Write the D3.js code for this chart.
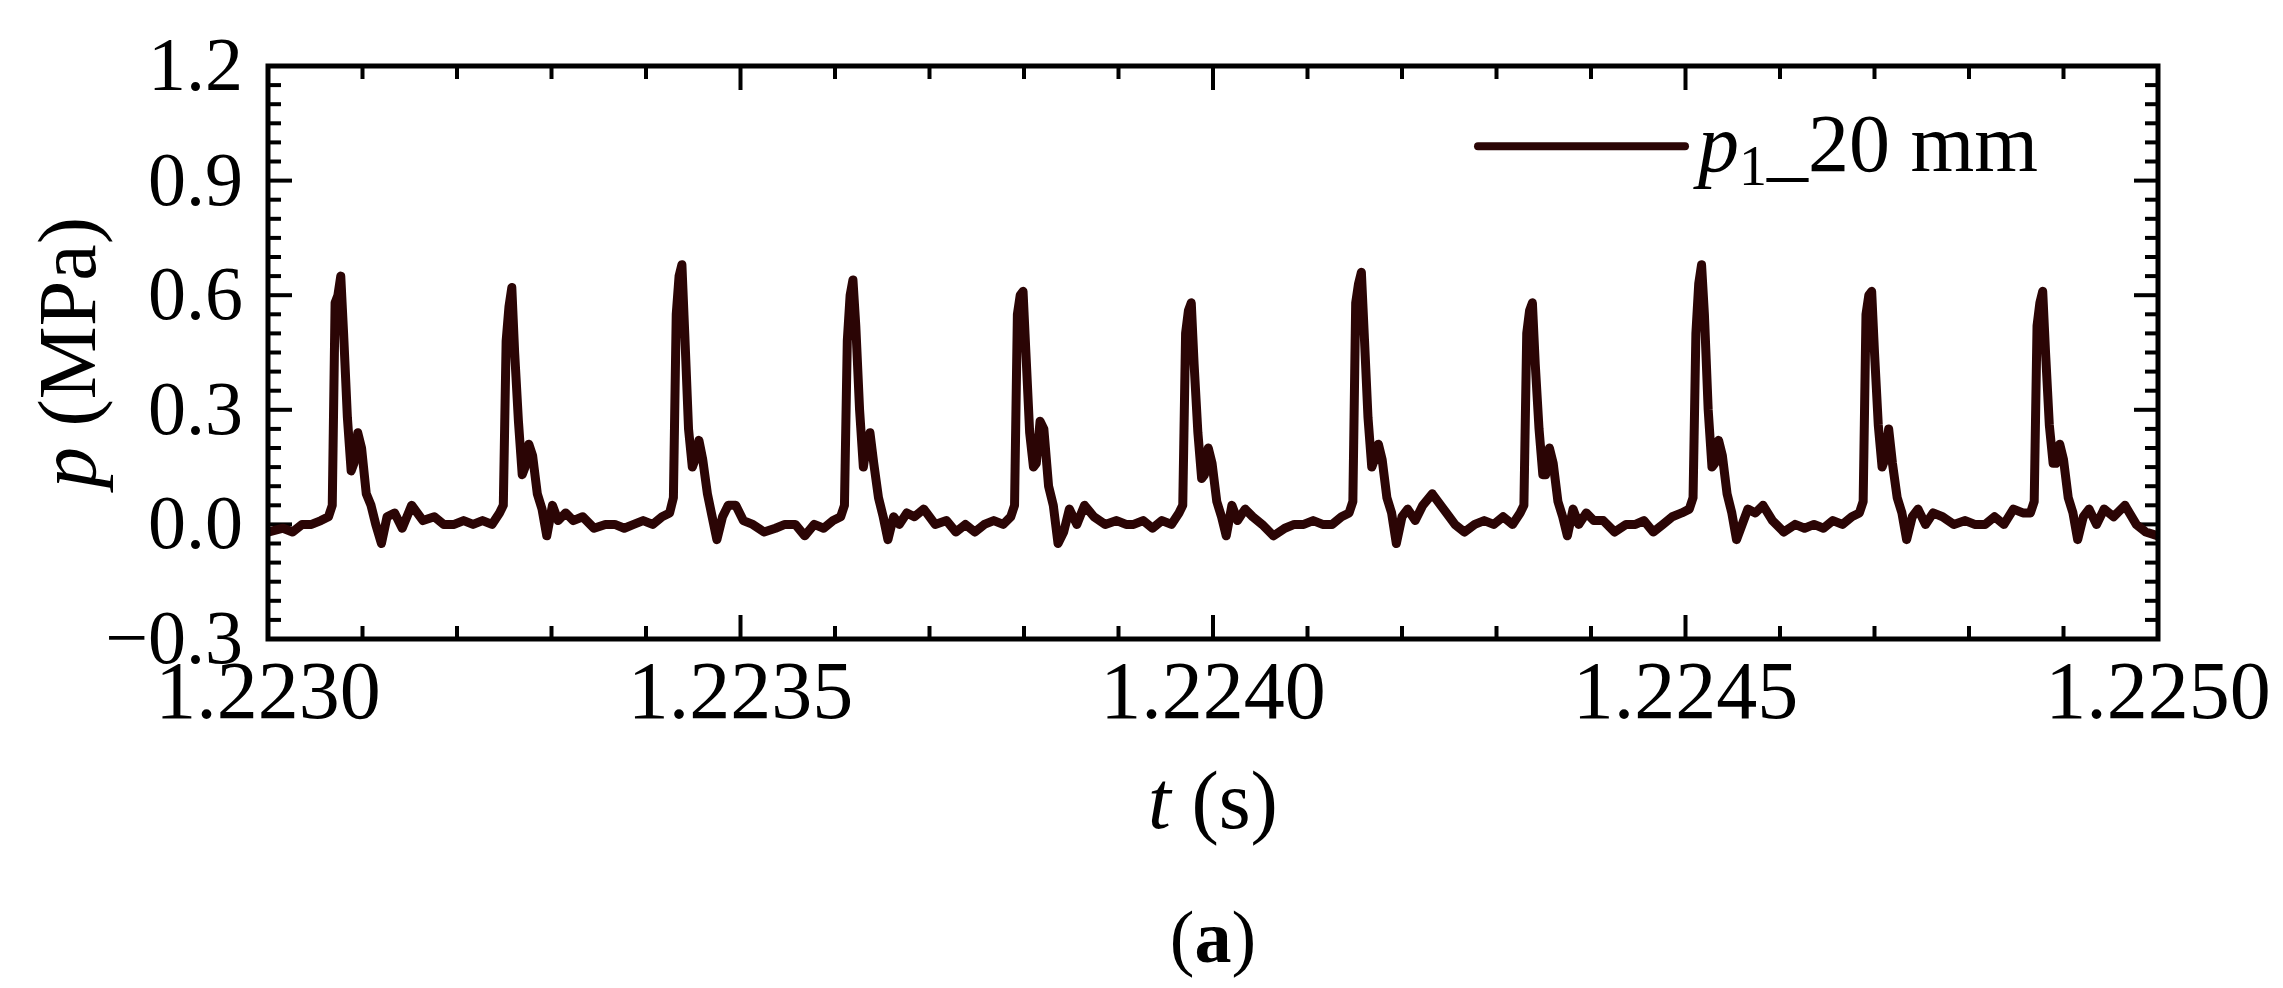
<!DOCTYPE html>
<html><head><meta charset="utf-8">
<script src="https://cdn.jsdelivr.net/npm/d3@7"></script>
<style>body{margin:0;background:#fff}</style></head>
<body><svg id="c" width="2283" height="988"></svg>
<script>
// Each pressure cycle: sample times (µs relative to that cycle's peak) and hand-read values (MPa)
const peakTimesUs = [76,257,437,618,798,976,1156,1337,1516,1696,1877];
const cycleOffsetsUs = [-60,-50,-40,-30,-20,-12,-8,-5,-2,1,4,8,12,15,19,23,28,33,38,44,50,58,66,76,88,100,110];
const cycleValues = [
 [-0.01,-0.02,0.0,0.0,0.01,0.02,0.05,0.58,0.6,0.65,0.5,0.28,0.14,0.16,0.24,0.2,0.08,0.05,0.0,-0.05,0.02,0.03,-0.01,0.05,0.01,0.02,0.0],
 [0.0,0.01,0.0,0.01,0.0,0.03,0.05,0.48,0.57,0.62,0.45,0.27,0.13,0.15,0.21,0.18,0.08,0.04,-0.03,0.05,0.01,0.03,0.01,0.02,-0.01,0.0,0.0],
 [-0.01,0.0,0.01,0.0,0.02,0.03,0.07,0.55,0.65,0.68,0.5,0.25,0.15,0.17,0.22,0.17,0.08,0.02,-0.04,0.02,0.05,0.05,0.01,0.0,-0.02,-0.01,0.0],
 [0.0,-0.03,0.0,-0.01,0.01,0.02,0.05,0.48,0.6,0.64,0.52,0.3,0.15,0.2,0.24,0.16,0.07,0.02,-0.04,0.02,0.0,0.03,0.02,0.04,0.0,0.01,-0.02],
 [0.0,-0.02,0.0,0.01,0.0,0.02,0.05,0.55,0.6,0.61,0.45,0.24,0.15,0.16,0.27,0.25,0.1,0.05,-0.05,-0.02,0.04,0.0,0.05,0.02,0.0,0.01,0.0],
 [0.0,0.01,-0.01,0.01,0.0,0.03,0.05,0.5,0.56,0.58,0.42,0.24,0.12,0.13,0.2,0.16,0.06,0.02,-0.03,0.05,0.01,0.04,0.02,0.0,-0.03,-0.01,0.0],
 [0.0,0.01,0.0,0.0,0.02,0.03,0.06,0.58,0.63,0.66,0.5,0.28,0.15,0.17,0.21,0.17,0.07,0.03,-0.05,0.02,0.04,0.01,0.05,0.08,0.04,0.0,-0.02],
 [0.0,0.01,0.0,0.02,0.0,0.03,0.05,0.5,0.56,0.58,0.42,0.25,0.13,0.13,0.2,0.16,0.06,0.02,-0.03,0.04,0.0,0.03,0.01,0.01,-0.02,0.0,0.0],
 [0.01,-0.02,0.0,0.02,0.03,0.04,0.07,0.5,0.63,0.68,0.55,0.3,0.15,0.16,0.22,0.18,0.08,0.03,-0.04,0.0,0.04,0.03,0.05,0.01,-0.02,0.0,-0.01],
 [0.0,-0.01,0.01,0.0,0.02,0.03,0.06,0.55,0.6,0.61,0.45,0.26,0.15,0.17,0.25,0.16,0.07,0.03,-0.04,0.02,0.04,0.0,0.03,0.02,0.0,0.01,0.0],
 [0.0,0.02,0.0,0.04,0.03,0.03,0.06,0.52,0.58,0.61,0.45,0.26,0.16,0.16,0.21,0.17,0.07,0.03,-0.04,0.02,0.04,0.0,0.04,0.02,0.05,0.0,-0.02]
];
const startPoint = [0,-0.02];
const endPoint = [2000,-0.03];
const xTicks = [1.2230,1.2235,1.2240,1.2245,1.2250];
const yTicks = [-0.3,0.0,0.3,0.6,0.9,1.2];
const legendLabel = "20 mm";

const svg = d3.select("#c");
const L=268,R=2158,T=66,B=639;
const x=d3.scaleLinear().domain([1.2230,1.2250]).range([L,R]);
const y=d3.scaleLinear().domain([-0.3,1.2]).range([B,T]);
const font="'Liberation Serif','Times New Roman',serif";
const pts=[startPoint];
peakTimesUs.forEach((pt,k)=>cycleOffsetsUs.forEach((o,j)=>pts.push([pt+o,cycleValues[k][j]])));
pts.push(endPoint);
const data=pts.filter(d=>d[0]>=0&&d[0]<=2000).map(d=>[1.2230+d[0]*1e-6,d[1]]);

const minorX=d3.range(0,21).map(i=>1.2230+i*0.0001);
const minorY=d3.range(0,31).map(i=>-0.3+i*0.05);
const g=svg.append("g");
function ticks(arr,maj,isX){
  arr.forEach((v,i)=>{
    const len=(i%maj===0)?24:13;
    if(isX){const px=x(v);
      g.append("line").attr("x1",px).attr("x2",px).attr("y1",B).attr("y2",B-len);
      g.append("line").attr("x1",px).attr("x2",px).attr("y1",T).attr("y2",T+len);
    } else {const py=y(v);
      g.append("line").attr("x1",L).attr("x2",L+len).attr("y1",py).attr("y2",py);
      g.append("line").attr("x1",R).attr("x2",R-len).attr("y1",py).attr("y2",py);
    }
  });
}
ticks(minorX,5,true); ticks(minorY,6,false);
g.selectAll("line").attr("stroke","#000").attr("stroke-width",4);

svg.append("path").datum(data)
  .attr("d",d3.line().x(d=>x(d[0])).y(d=>y(d[1])))
  .attr("fill","none").attr("stroke","#2b0505").attr("stroke-width",9).attr("stroke-linejoin","round");

svg.append("rect").attr("x",L).attr("y",T).attr("width",R-L).attr("height",B-T)
  .attr("fill","none").attr("stroke","#000").attr("stroke-width",5);

svg.selectAll(".xl").data(xTicks).enter().append("text")
  .attr("x",d=>x(d)).attr("y",718).attr("text-anchor","middle")
  .attr("font-family",font).attr("font-size",82).text(d=>d.toFixed(4));
svg.selectAll(".yl").data(yTicks).enter().append("text")
  .attr("x",243).attr("y",d=>y(d)+24).attr("text-anchor","end")
  .attr("font-family",font).attr("font-size",76).text(d=>d<0?"\u2212"+Math.abs(d).toFixed(1):d.toFixed(1));

const xt=svg.append("text").attr("x",x(1.2240)).attr("y",828).attr("text-anchor","middle")
  .attr("font-family",font).attr("font-size",82);
xt.append("tspan").attr("font-style","italic").text("t");
xt.append("tspan").text(" (s)");

const yt=svg.append("text").attr("transform",`translate(95,${y(0.45)}) rotate(-90)`).attr("text-anchor","middle")
  .attr("font-family",font).attr("font-size",82);
yt.append("tspan").attr("font-style","italic").text("p");
yt.append("tspan").text(" (MPa)");

const ct=svg.append("text").attr("x",x(1.2240)).attr("y",962).attr("text-anchor","middle")
  .attr("font-family",font).attr("font-size",74);
ct.append("tspan").text("(");ct.append("tspan").attr("font-weight","bold").text("a");ct.append("tspan").text(")");

svg.append("line").attr("x1",1478).attr("x2",1685).attr("y1",y(0.99)).attr("y2",y(0.99))
  .attr("stroke","#2b0505").attr("stroke-width",8).attr("stroke-linecap","round");
const lt=svg.append("text").attr("x",1698).attr("y",y(0.99)+25)
  .attr("font-family",font).attr("font-size",82);
lt.append("tspan").attr("font-style","italic").text("p");
lt.append("tspan").attr("font-size",56).attr("dy",14).text("1");
lt.append("tspan").attr("dy",-14).text("_"+legendLabel);
</script></body></html>
